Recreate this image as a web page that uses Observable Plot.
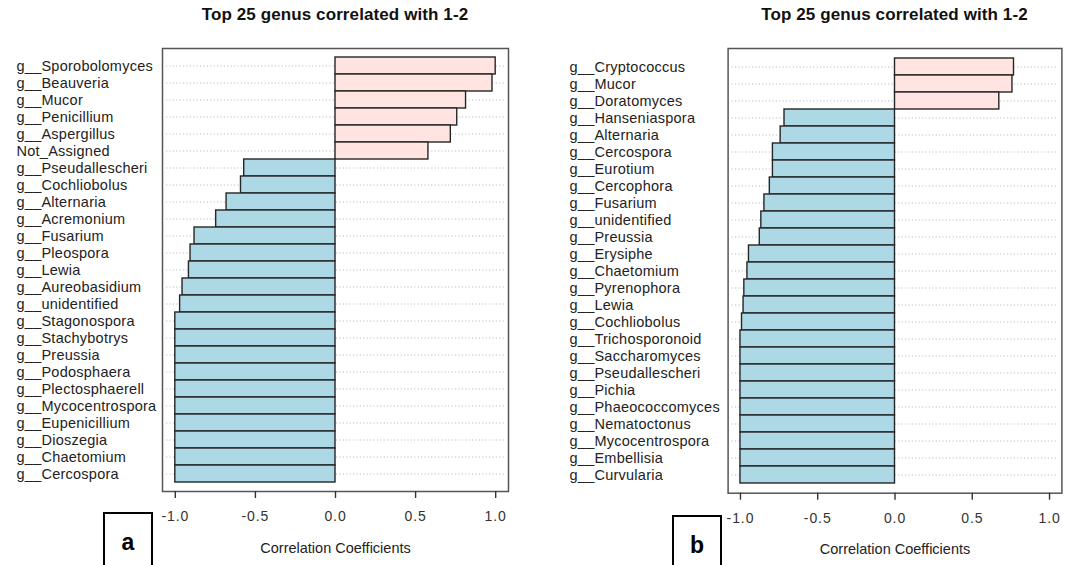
<!DOCTYPE html>
<html>
<head>
<meta charset="utf-8">
<script src="https://cdn.jsdelivr.net/npm/d3@7"></script>
<script src="https://cdn.jsdelivr.net/npm/@observablehq/plot@0.6"></script>
<style>
  html, body { margin: 0; padding: 0; background: #fff; }
  #page { position: relative; width: 1072px; height: 565px; overflow: hidden; font-family: "Liberation Sans", Arial, sans-serif; }
  .panel { position: absolute; top: 0; }
  .title { position: absolute; top: 5px; font-weight: bold; font-size: 17px; letter-spacing: 0.1px; color: #111; white-space: nowrap; transform: translateX(-50%); }
  .tag { position: absolute; border: 2px solid #000; box-sizing: border-box; width: 50px; height: 70px; font-weight: bold; font-size: 23px; text-align: center; padding-top: 15px; color: #000; }
  .ytl { letter-spacing: 0.25px; }
  .xtl text { letter-spacing: 0.9px; }
</style>
</head>
<body>
<div id="page"></div>
<script>
// ---- data ----
const genusA = ["g__Sporobolomyces","g__Beauveria","g__Mucor","g__Penicillium","g__Aspergillus","Not_Assigned","g__Pseudallescheri","g__Cochliobolus","g__Alternaria","g__Acremonium","g__Fusarium","g__Pleospora","g__Lewia","g__Aureobasidium","g__unidentified","g__Stagonospora","g__Stachybotrys","g__Preussia","g__Podosphaera","g__Plectosphaerell","g__Mycocentrospora","g__Eupenicillium","g__Dioszegia","g__Chaetomium","g__Cercospora"];
const corrA = [1.0,0.98,0.815,0.76,0.72,0.58,-0.57,-0.59,-0.68,-0.745,-0.88,-0.905,-0.915,-0.955,-0.97,-1,-1,-1,-1,-1,-1,-1,-1,-1,-1];

const genusB = ["g__Cryptococcus","g__Mucor","g__Doratomyces","g__Hanseniaspora","g__Alternaria","g__Cercospora","g__Eurotium","g__Cercophora","g__Fusarium","g__unidentified","g__Preussia","g__Erysiphe","g__Chaetomium","g__Pyrenophora","g__Lewia","g__Cochliobolus","g__Trichosporonoid","g__Saccharomyces","g__Pseudallescheri","g__Pichia","g__Phaeococcomyces","g__Nematoctonus","g__Mycocentrospora","g__Embellisia","g__Curvularia"];
const corrB = [0.77,0.76,0.675,-0.715,-0.74,-0.79,-0.79,-0.81,-0.845,-0.865,-0.875,-0.945,-0.955,-0.975,-0.98,-0.99,-1,-1,-1,-1,-1,-1,-1,-1,-1];

const xTicks = [-1, -0.5, 0, 0.5, 1];
const titleText = "Top 25 genus correlated with 1-2";
const xLabel = "Correlation Coefficients";
const panelTags = ["a", "b"];

// ---- drawing ----
const page = document.getElementById("page");

function makePanel({genus, corr, left, width, mLeft, mRight, mTop, mBottom, labelDx, tag, tagLeft, tagTop}) {
  const data = genus.map((g, i) => ({genus: g, value: corr[i]}));
  const div = document.createElement("div");
  div.className = "panel";
  div.style.left = left + "px";
  div.style.width = width + "px";
  const chart = Plot.plot({
    width, height: 565,
    marginLeft: mLeft, marginRight: mRight, marginTop: mTop, marginBottom: mBottom,
    style: {fontFamily: "'Liberation Sans', Arial, sans-serif", fontSize: "14px", color: "#222", background: "transparent"},
    x: {domain: [-1.08, 1.08]},
    y: {domain: genus, padding: 0, insetTop: 8.7, insetBottom: 8.7, axis: null},
    marks: [
      Plot.ruleY(data, {y: "genus", stroke: "#bdbdbd", strokeWidth: 1, strokeDasharray: "1.2,2.2", insetLeft: 4, insetRight: 4}),
      Plot.barX(data, {x: "value", y: "genus", fill: d => d.value > 0 ? "#FFE4E1" : "#ADD8E6", stroke: "#262626", strokeWidth: 1.4}),
      Plot.frame({stroke: "#555", strokeWidth: 1.5}),
      Plot.axisX({ticks: xTicks, tickSize: 7, tickPadding: 13, tickFormat: d => d.toFixed(1), label: null, stroke: "#333", strokeWidth: 1.4, fontSize: 14, fill: "#333", className: "xtl"}),
      Plot.text([xLabel], {text: d => d, frameAnchor: "bottom", dy: 61, fontSize: 14.5, fill: "#222"}),
      Plot.text(data, {y: "genus", text: "genus", frameAnchor: "left", textAnchor: "start", dx: labelDx, fontSize: 14.5, fill: "#222", className: "ytl"})
    ]
  });
  div.appendChild(chart);
  const t = document.createElement("div");
  t.className = "title";
  t.textContent = titleText;
  t.style.left = (mLeft + (width - mLeft - mRight) / 2) + "px";
  div.appendChild(t);
  page.appendChild(div);
  const tg = document.createElement("div");
  tg.className = "tag";
  tg.textContent = tag;
  tg.style.left = tagLeft + "px";
  tg.style.top = tagTop + "px";
  page.appendChild(tg);
}

makePanel({genus: genusA, corr: corrA, left: 0, width: 536, mLeft: 162, mRight: 28, mTop: 48, mBottom: 74, labelDx: -146, tag: panelTags[0], tagLeft: 103, tagTop: 512});
makePanel({genus: genusB, corr: corrB, left: 536, width: 536, mLeft: 191.6, mRight: 10.6, mTop: 48, mBottom: 72.3, labelDx: -158.6, tag: panelTags[1], tagLeft: 672, tagTop: 515});
</script>
</body>
</html>
